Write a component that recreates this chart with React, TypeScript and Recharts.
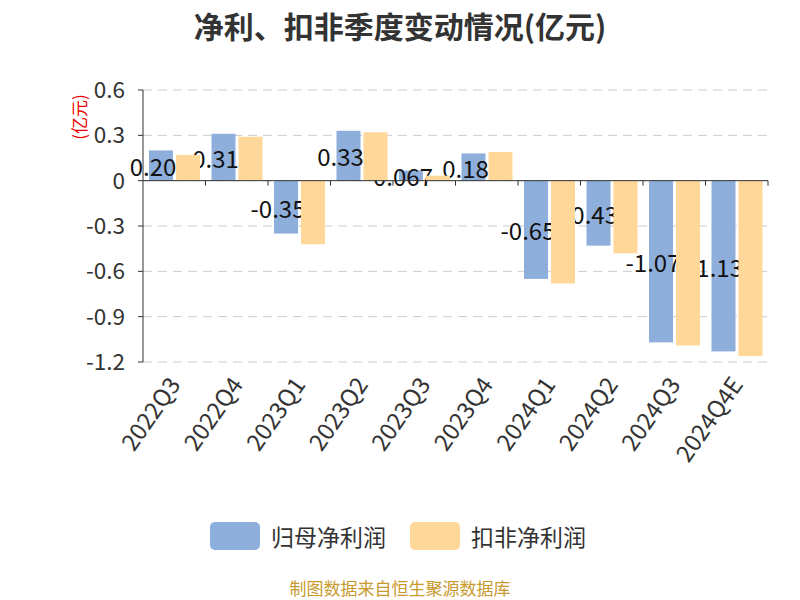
import React from 'react'
import { BarChart, Bar, XAxis, YAxis, CartesianGrid, ReferenceLine } from 'recharts'

const categories = ['2022Q3', '2022Q4', '2023Q1', '2023Q2', '2023Q3', '2023Q4', '2024Q1', '2024Q2', '2024Q3', '2024Q4E']
const netProfit = [0.2, 0.31, -0.35, 0.33, 0.067, 0.18, -0.65, -0.43, -1.07, -1.13]
const netProfitLabels = ['0.20', '0.31', '-0.35', '0.33', '0.067', '0.18', '-0.65', '-0.43', '-1.07', '-1.13']
const deductedProfit = [0.17, 0.29, -0.42, 0.32, 0.033, 0.19, -0.68, -0.48, -1.09, -1.16]
const yTicks = [-1.2, -0.9, -0.6, -0.3, 0, 0.3, 0.6]

const FONT = '"Noto Sans CJK SC", "Noto Sans", sans-serif'
const BLUE = '#8eaedb'
const ORANGE = '#ffd899'

// layout
const W = 800
const H = 600
const TOP = 90
const LEFT = 143
const RIGHT = 32
const X_AXIS_H = 238
const PLOT_BOTTOM = H - X_AXIS_H
const PLOT_H = PLOT_BOTTOM - TOP
const ZERO_Y = TOP + PLOT_H * (0.6 / 1.8)
const BAND = (W - LEFT - RIGHT) / categories.length

const data = categories.map((c, i) => ({
  name: c,
  net: netProfit[i],
  deducted: deductedProfit[i],
}))

const XTick = (props: any) => {
  const { x, payload } = props
  return (
    <g>
      <line x1={x + BAND / 2} x2={x + BAND / 2} y1={ZERO_Y} y2={ZERO_Y + 5} stroke="#333" />
      <text
        transform={`translate(${x - 1},${PLOT_BOTTOM + 17}) rotate(-55)`}
        textAnchor="end"
        dominantBaseline="central"
        fontSize={23.5}
        fill="#333"
        fontFamily={FONT}
      >
        {payload.value}
      </text>
    </g>
  )
}

// blue bar + its label in one shape, so the orange series (drawn later) covers the label like the original
const NetBar = (props: any) => {
  const { x, y, width, height, index } = props
  const top = Math.min(y, y + height)
  const h = Math.abs(height)
  return (
    <g>
      <rect x={x} y={top} width={width} height={h} fill={BLUE} />
      <text
        x={x + width / 2 - 8}
        y={top + h / 2}
        textAnchor="middle"
        dominantBaseline="central"
        fontSize={24}
        fill="#111"
        fontFamily={FONT}
      >
        {netProfitLabels[index]}
      </text>
    </g>
  )
}

export default function App() {
  return (
    <div style={{ position: 'absolute', left: 0, top: 0, width: W, height: H, fontFamily: FONT, background: '#fff' }}>
      <div style={{ position: 'absolute', left: 0, top: 3, width: W, textAlign: 'center', fontSize: 30, fontWeight: 'bold', color: '#333' }}>
        净利、扣非季度变动情况(亿元)
      </div>
      <div
        style={{
          position: 'absolute', left: 78, top: 117, fontSize: 17, color: '#e00', whiteSpace: 'nowrap',
          transform: 'translate(-50%, -50%) rotate(-90deg)',
        }}
      >
        (亿元)
      </div>
      <BarChart width={W} height={H} data={data} margin={{ top: TOP, right: RIGHT, bottom: 0, left: 0 }}
        barCategoryGap={6} barGap={3}>
        <CartesianGrid vertical={false} stroke="#ccc" strokeDasharray="9 6" />
        <YAxis
          width={LEFT}
          domain={[-1.2, 0.6]}
          ticks={yTicks}
          tickSize={5}
          tickMargin={13}
          stroke="#333"
          tick={{ fontSize: 22.5, fill: '#333', fontFamily: FONT }}
        />
        <XAxis dataKey="name" height={X_AXIS_H} axisLine={false} tickLine={false} tick={<XTick />} interval={0} />
        <ReferenceLine y={0} stroke="#333" strokeWidth={1} />
        <Bar dataKey="net" fill={BLUE} shape={<NetBar />} isAnimationActive={false} />
        <Bar dataKey="deducted" fill={ORANGE} isAnimationActive={false} />
      </BarChart>
      <div style={{ position: 'absolute', left: 210, top: 522, width: 50, height: 28, borderRadius: 5, background: BLUE }} />
      <div style={{ position: 'absolute', left: 271, top: 519, fontSize: 23, color: '#333', lineHeight: '34px' }}>归母净利润</div>
      <div style={{ position: 'absolute', left: 410, top: 522, width: 50, height: 28, borderRadius: 5, background: ORANGE }} />
      <div style={{ position: 'absolute', left: 471, top: 519, fontSize: 23, color: '#333', lineHeight: '34px' }}>扣非净利润</div>
      <div style={{ position: 'absolute', left: 0, top: 576, width: W, textAlign: 'center', fontSize: 17, color: '#c89a2e', lineHeight: '24px' }}>
        制图数据来自恒生聚源数据库
      </div>
    </div>
  )
}
